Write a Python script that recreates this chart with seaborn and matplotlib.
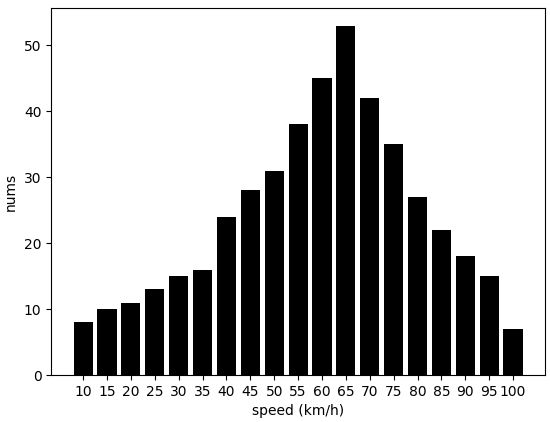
import matplotlib
matplotlib.use("Agg")
import matplotlib.pyplot as plt
import seaborn as sns

# speed buckets and counts
speed = [10, 15, 20, 25, 30, 35, 40, 45, 50, 55, 60, 65, 70, 75, 80, 85, 90, 95, 100]
nums = [8, 10, 11, 13, 15, 16, 24, 28, 31, 38, 45, 53, 42, 35, 27, 22, 18, 15, 7]

fig, ax = plt.subplots(figsize=(5.5, 4.22), dpi=100)
sns.barplot(x=speed, y=nums, native_scale=True, color="black", saturation=1,
            width=0.8, linewidth=0, ax=ax)

ax.set_xticks(speed)
ax.set_xticklabels([str(s) for s in speed])
ax.set_xlim(3.3, 106.7)
ax.set_ylim(0, 55.65)
ax.set_xlabel("speed (km/h)")
ax.set_ylabel("nums")

fig.subplots_adjust(left=0.093, right=0.991, top=0.981, bottom=0.111)
fig.savefig("out.png", dpi=100)
